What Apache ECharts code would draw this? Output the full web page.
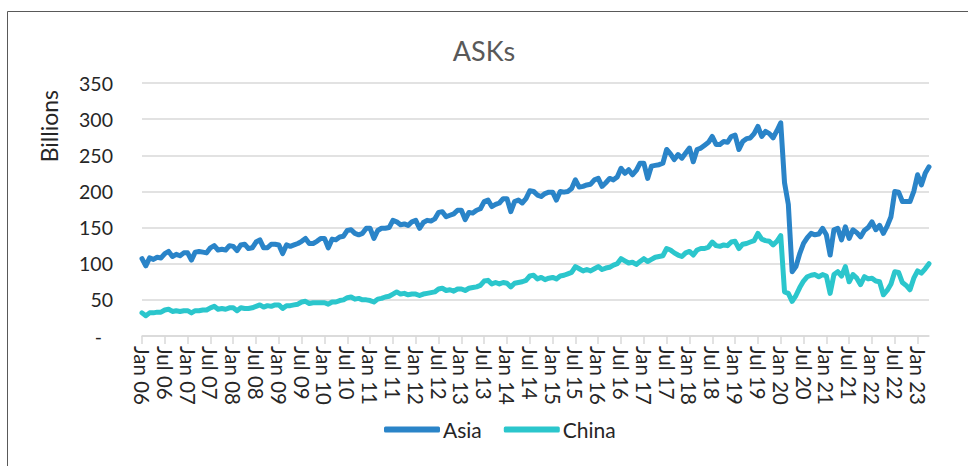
<!DOCTYPE html>
<html>
<head>
<meta charset="utf-8">
<title>ASKs</title>
<script src="https://cdn.jsdelivr.net/npm/echarts@6/dist/echarts.min.js"></script>
<style>
  html, body { margin: 0; padding: 0; background: #fff; }
  #chart { width: 968px; height: 466px; }
</style>
</head>
<body>
<div id="chart"></div>
<script>
// Monthly available seat kilometres (billions), Jan 2006 – Apr 2023
const monthNames = ['Jan','Feb','Mar','Apr','May','Jun','Jul','Aug','Sep','Oct','Nov','Dec'];
const startYear = 2006;
const yTicks = [0, 50, 100, 150, 200, 250, 300, 350];

const asia = [
  // 2006
  107, 97, 108, 106, 109, 108, 114, 117, 110, 113, 111, 115,
  // 2007
  115, 105, 116, 117, 116, 115, 122, 125, 119, 120, 119, 125,
  // 2008
  124, 118, 126, 127, 121, 122, 130, 133, 122, 122, 127, 127,
  // 2009
  126, 114, 126, 124, 126, 128, 131, 135, 128, 128, 131, 135,
  // 2010
  135, 122, 134, 133, 137, 138, 146, 147, 142, 140, 142, 149,
  // 2011
  149, 135, 146, 149, 149, 150, 160, 158, 154, 155, 153, 158,
  // 2012
  160, 149, 157, 160, 159, 162, 171, 172, 165, 167, 169, 174,
  // 2013
  174, 161, 171, 170, 174, 176, 186, 188, 179, 182, 184, 190,
  // 2014
  190, 172, 186, 188, 184, 190, 201, 200, 195, 193, 197, 199,
  // 2015
  199, 188, 200, 199, 200, 204, 216, 206, 207, 209, 210, 216,
  // 2016
  218, 207, 212, 218, 216, 220, 232, 225, 230, 223, 229, 239,
  // 2017
  239, 218, 235, 236, 237, 239, 258, 252, 244, 251, 246, 253,
  // 2018
  260, 241, 258, 260, 264, 268, 276, 265, 265, 269, 268, 276,
  // 2019
  278, 258, 269, 273, 274, 280, 290, 276, 283, 280, 274, 284,
  // 2020
  295, 212, 182, 89, 96, 114, 128, 136, 142, 140, 141, 149,
  // 2021
  140, 112, 147, 149, 133, 151, 135, 147, 143, 137, 146, 150,
  // 2022
  158, 147, 153, 142, 152, 165, 200, 199, 186, 186, 186, 200,
  // 2023
  223, 209, 225, 234
];

const china = [
  // 2006
  32, 28, 32, 32, 33, 33, 36, 37, 34, 35, 34, 35,
  // 2007
  35, 32, 35, 35, 36, 36, 39, 41, 37, 38, 37, 39,
  // 2008
  39, 35, 39, 38, 38, 39, 41, 43, 40, 42, 41, 43,
  // 2009
  43, 38, 42, 42, 43, 44, 47, 48, 45, 46, 46, 46,
  // 2010
  46, 44, 47, 47, 49, 50, 53, 54, 51, 52, 50, 50,
  // 2011
  49, 47, 51, 52, 54, 55, 58, 61, 58, 59, 57, 58,
  // 2012
  58, 56, 58, 59, 60, 61, 65, 66, 63, 64, 62, 65,
  // 2013
  65, 63, 66, 67, 68, 70, 76, 77, 72, 74, 72, 74,
  // 2014
  73, 68, 73, 74, 75, 77, 83, 84, 79, 81, 78, 80,
  // 2015
  81, 79, 83, 84, 86, 88, 96, 93, 90, 92, 90, 93,
  // 2016
  96, 92, 94, 95, 98, 100, 107, 104, 101, 102, 99, 103,
  // 2017
  107, 103, 106, 109, 110, 111, 121, 119, 115, 112, 110, 115,
  // 2018
  117, 112, 119, 121, 121, 123, 130, 125, 124, 126, 125, 130,
  // 2019
  131, 121, 127, 128, 130, 132, 142, 134, 132, 131, 126, 131,
  // 2020
  139, 61, 59, 48, 56, 67, 76, 82, 84, 85, 82, 85,
  // 2021
  83, 59, 85, 89, 83, 96, 75, 85, 80, 71, 82, 79,
  // 2022
  80, 76, 75, 57, 63, 72, 89, 88, 74, 70, 64, 80,
  // 2023
  90, 87, 93, 100
];

// Category labels: "Jan 06", "Feb 06", ...
const categories = asia.map((_, i) => {
  const y = startYear + Math.floor(i / 12);
  return monthNames[i % 12] + ' ' + String(y % 100).padStart(2, '0');
});

const FONT = 'Lato, "Open Sans", sans-serif';
const TEXT = '#262626';

const chart = echarts.init(document.getElementById('chart'), null, { renderer: 'svg' });

chart.setOption({
  backgroundColor: '#ffffff',
  animation: false,
  title: {
    text: 'ASKs',
    left: 'center',
    top: 32,
    textStyle: { fontFamily: FONT, fontSize: 27, fontWeight: 'normal', color: '#595959' }
  },
  legend: {
    bottom: 21,
    left: 379,
    itemWidth: 56,
    itemHeight: 6,
    itemGap: 22,
    icon: 'roundRect',
    textStyle: { fontFamily: FONT, fontSize: 21, color: TEXT, padding: [0, 0, 0, -2] },
    data: ['Asia', 'China']
  },
  grid: { left: 142, right: 39, top: 83, bottom: 130 },
  xAxis: {
    type: 'category',
    data: categories,
    boundaryGap: false,
    axisLine: { show: true, lineStyle: { color: '#d9d9d9', width: 1.5 } },
    axisTick: { show: true, interval: 5, length: 8, lineStyle: { color: '#d9d9d9', width: 1.5 } },
    axisLabel: {
      interval: 5,
      rotate: -90,
      margin: 10,
      fontFamily: FONT,
      fontSize: 20.5,
      color: TEXT
    },
    splitLine: { show: false }
  },
  yAxis: {
    type: 'value',
    min: yTicks[0],
    max: yTicks[yTicks.length - 1],
    interval: 50,
    axisLine: { show: false },
    axisTick: { show: false },
    axisLabel: {
      margin: 29,
      fontFamily: FONT,
      fontSize: 19.5,
      color: TEXT,
      formatter: v => (v === 0 ? '{dash|-}' : String(v)),
      rich: { dash: { fontFamily: FONT, fontSize: 19.5, color: TEXT, padding: [0, 11, 0, 0] } }
    },
    splitLine: { show: true, lineStyle: { color: '#d9d9d9', width: 1.5 } }
  },
  graphic: [
    {
      type: 'rect',
      shape: { x: 7.5, y: 11.5, width: 980, height: 480 },
      style: { fill: 'none', stroke: '#595959', lineWidth: 1 },
      silent: true
    },
    {
      type: 'text',
      left: 37,
      top: 90,
      rotation: Math.PI / 2,
      style: { text: 'Billions', fontFamily: FONT, fontSize: 23, fill: TEXT },
      silent: true
    }
  ],
  series: [
    {
      name: 'Asia',
      type: 'line',
      data: asia,
      showSymbol: false,
      symbol: 'none',
      lineStyle: { color: '#2A84C8', width: 5, cap: 'round', join: 'round' },
      itemStyle: { color: '#2A84C8' }
    },
    {
      name: 'China',
      type: 'line',
      data: china,
      showSymbol: false,
      symbol: 'none',
      lineStyle: { color: '#2BC6CC', width: 5, cap: 'round', join: 'round' },
      itemStyle: { color: '#2BC6CC' }
    }
  ]
});
</script>
</body>
</html>
